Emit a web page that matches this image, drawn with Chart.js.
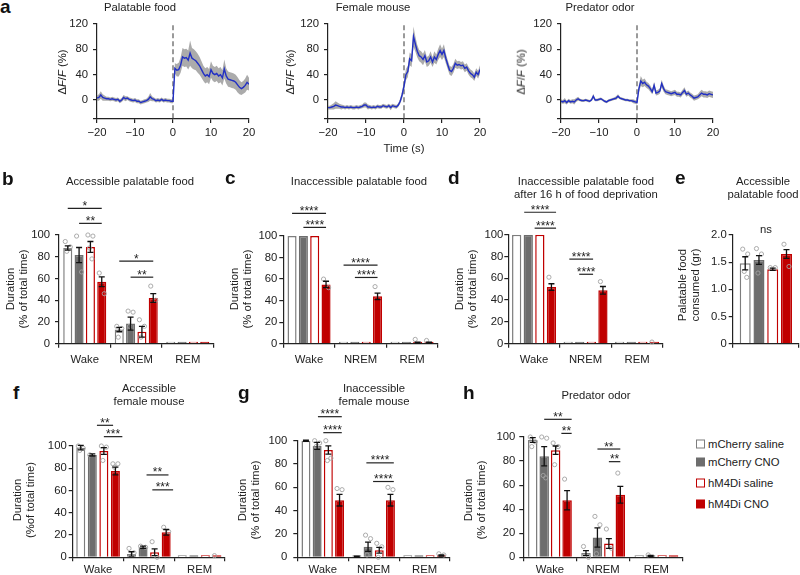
<!DOCTYPE html>
<html><head><meta charset="utf-8">
<script src="https://cdn.jsdelivr.net/npm/chart.js@4.4.1/dist/chart.umd.min.js"></script>
<style>
html,body{margin:0;padding:0;background:#fff;}
body{width:800px;height:575px;overflow:hidden;position:relative;font-family:"Liberation Sans",Arial,Helvetica,sans-serif;color:#222;}
canvas{position:absolute;}
.tt{position:absolute;font-size:11.3px;line-height:12.5px;text-align:center;white-space:nowrap;transform:translate(-50%,-50%);z-index:2;}
.yl{position:absolute;font-size:11.3px;line-height:12.5px;text-align:center;white-space:nowrap;transform:translate(-50%,-50%) rotate(-90deg);z-index:2;color:#222;}
.pl{position:absolute;font-size:19px;line-height:19px;font-weight:bold;color:#111;z-index:2;}
.lg{position:absolute;font-size:11.3px;line-height:14px;white-space:nowrap;transform:translateY(-50%);z-index:2;}
.sw{position:absolute;width:9px;height:9px;box-sizing:border-box;transform:translateY(-50%);z-index:2;}
</style></head>
<body>
<div id="root"></div>

<div class="pl" style="left:0px;top:-3px">a</div>
<div class="pl" style="left:2px;top:169px">b</div>
<div class="pl" style="left:225px;top:168px">c</div>
<div class="pl" style="left:448px;top:168px">d</div>
<div class="pl" style="left:675px;top:168px">e</div>
<div class="pl" style="left:13px;top:383px">f</div>
<div class="pl" style="left:238px;top:383px">g</div>
<div class="pl" style="left:463px;top:383px">h</div>

<div class="tt" style="left:140px;top:7px">Palatable food</div>
<div class="tt" style="left:373px;top:7px">Female mouse</div>
<div class="tt" style="left:600px;top:7px">Predator odor</div>
<div class="tt" style="left:404px;top:148px">Time (s)</div>
<div class="yl" style="left:62px;top:72px">Δ<i>F</i>/<i>F</i> (%)</div>
<div class="yl" style="left:290px;top:72px">Δ<i>F</i>/<i>F</i> (%)</div>
<div class="yl" style="left:521px;top:72px">Δ<i>F</i>/<i>F</i> (%)</div>

<div class="tt" style="left:130px;top:181px">Accessible palatable food</div>
<div class="tt" style="left:359px;top:181px">Inaccessible palatable food</div>
<div class="tt" style="left:586px;top:187px">Inaccessible palatable food<br>after 16 h of food deprivation</div>
<div class="tt" style="left:763px;top:187px">Accessible<br>palatable food</div>
<div class="yl" style="left:16px;top:289px">Duration<br>(% of total time)</div>
<div class="yl" style="left:240px;top:289px">Duration<br>(% of total time)</div>
<div class="yl" style="left:465px;top:289px">Duration<br>(% of total time)</div>
<div class="yl" style="left:688px;top:285px">Palatable food<br>consumed (gr)</div>

<div class="tt" style="left:149px;top:394px">Accessible<br>female mouse</div>
<div class="tt" style="left:374px;top:394px">Inaccessible<br>female mouse</div>
<div class="tt" style="left:596px;top:395px">Predator odor</div>
<div class="yl" style="left:23px;top:500px">Duration<br>(%of total time)</div>
<div class="yl" style="left:248px;top:500px">Duration<br>(% of total time)</div>
<div class="yl" style="left:474px;top:500px">Duration<br>(% of total time)</div>

<div class="sw" style="left:696px;top:444px;border:1.5px solid #7d7d7d;background:#fff"></div>
<div class="lg" style="left:708px;top:444px">mCherry saline</div>
<div class="sw" style="left:696px;top:462px;background:#6d6d6d"></div>
<div class="lg" style="left:708px;top:462px">mCherry CNO</div>
<div class="sw" style="left:696px;top:483px;border:1.5px solid #c00000;background:#fff"></div>
<div class="lg" style="left:708px;top:483px">hM4Di saline</div>
<div class="sw" style="left:696px;top:504px;background:#c00000"></div>
<div class="lg" style="left:708px;top:504px">hM4Di CNO</div>

<script>
// ---------------- DATA ----------------
const timeSec = [-20,-19.5,-19,-18.5,-18,-17.5,-17,-16.5,-16,-15.5,-15,-14.5,-14,-13.5,-13,-12.5,-12,-11.5,-11,-10.5,-10,-9.5,-9,-8.5,-8,-7.5,-7,-6.5,-6,-5.5,-5,-4.5,-4,-3.5,-3,-2.5,-2,-1.5,-1,-0.5,0,0.5,1,1.5,2,2.5,3,3.5,4,4.5,5,5.5,6,6.5,7,7.5,8,8.5,9,9.5,10,10.5,11,11.5,12,12.5,13,13.5,14,14.5,15,15.5,16,16.5,17,17.5,18,18.5,19,19.5,20];
const traceXTicks = [-20,-10,0,10,20];
const traceYTicks = [-30,0,40,80,120];

const foodMean = [3,4,8,4,3,2,2,1,2,1,0,1,-2,0,4,2,3,1,0,-1,0,-2,-2,-4,-3,-2,-1,1,5,2,1,-1,0,-1,1,-1,0,-1,-1,-2,-2,
  50,47,48,55,68,66,67,63,74,66,64,62,58,54,48,42,38,40,37,48,42,40,42,38,40,35,49,38,33,32,31,30,28,24,20,18,20,23,28,25];
const foodSem = [4,5,6,5,4,3,3,3,3,3,3,3,3,3,4,4,3,3,3,3,3,3,3,3,3,3,3,4,6,4,3,3,3,3,3,3,3,3,3,3,3,
  8,10,11,12,14,14,14,15,20,16,16,15,15,14,13,12,12,12,12,13,12,12,12,12,12,12,15,12,12,12,12,12,12,12,11,10,10,11,12,10];

const femaleMean = [-12,-12,-11,-10,-8,-9,-10,-11,-11,-12,-11,-12,-11,-12,-12,-11,-12,-11,-10,-8,-8,-11,-11,-12,-11,-12,-10,-11,-11,-9,-10,-11,-9,-12,-9,-10,-11,-8,-2,8,22,
  40,45,65,62,100,88,77,70,68,64,70,60,62,68,60,68,64,72,78,72,78,66,56,47,45,50,58,55,56,54,55,50,52,46,42,40,36,44,40,48];
const femaleSem = [3,3,4,5,6,5,4,4,3,3,3,3,3,3,3,3,3,3,3,4,4,4,3,3,3,3,3,3,3,3,3,3,3,4,3,3,3,3,4,6,8,
  9,9,10,10,16,12,10,9,9,9,9,8,8,9,8,9,8,9,10,9,10,8,7,7,7,7,7,6,6,6,6,6,6,6,6,6,6,6,6,7];

const predatorMean = [-2,-3,-1,-4,-1,-3,-2,-3,0,2,0,-1,-1,0,-1,-2,0,6,0,0,1,2,0,-2,-3,-1,0,1,2,3,6,3,2,1,0,0,-1,-1,-2,-3,-4,
  18,30,26,28,24,22,18,13,23,11,12,14,26,18,13,12,11,10,11,12,9,9,8,12,15,9,11,8,6,3,4,5,8,11,9,9,8,10,9,8];
const predatorSem = [3,3,4,3,3,3,3,4,3,3,2,2,2,2,2,2,2,4,2,2,2,2,2,2,2,2,2,2,2,3,3,2,2,2,2,2,2,2,3,3,3,
  6,8,6,6,5,5,5,4,6,4,4,4,6,5,4,4,4,4,4,4,4,4,4,4,5,4,4,4,4,4,4,4,5,5,5,5,5,5,5,5];

const seriesNames = ['mCherry saline','mCherry CNO','hM4Di saline','hM4Di CNO'];
const stateLabels = ['Wake','NREM','REM'];

// per series: [Wake, NREM, REM]
const bMean = [[88,13,0.5],[81.5,18.5,0.5],[89,11,0.5],[57,42,0.5]];
const bSem  = [[2,2,0],[7,6,0],[5,5,0],[4.5,4,0]];
const bDots = [[[94,89,85],[16,14,6],[]],[[99,66],[30,29,16],[]],[[100,99,88,78],[22,16,6],[]],[[65,46],[53,40],[]]];
const bSig  = [[0,0,3,124.5,'*'],[0,1,3,110.7,'**'],[1,0,3,75.9,'*'],[1,1,3,61.2,'**']];

const cMean = [[100,0.5,0.5],[100,0.5,0.5],[100,0.5,1],[55,44,1]];
const cSem  = [[0,0,0],[0,0,0],[0,0,0.5],[3,3,0.5]];
const cDots = [[[],[],[]],[[],[],[]],[[],[],[4]],[[60,52],[53],[3]]];
const cSig  = [[0,0,3,121,'****'],[0,1,3,108,'****'],[1,0,3,73,'****'],[1,1,3,61.5,'****']];

const dMean = [[100,0.5,0.5],[100,0.5,0.5],[100,0.5,0.5],[52,49,1]];
const dSem  = [[0,0,0],[0,0,0],[0,0,0],[3,3.5,0]];
const dDots = [[[],[],[]],[[],[],[]],[[],[],[]],[[61],[57],[1.5]]];
const dSig  = [[0,0.65,3.4,120.6,'****'],[0,1.55,3.4,106,'****'],[1,0.1,2.15,77.6,'****'],[1,0.95,2.15,63.7,'****']];

const eLabels = [''];
const eMean = [[1.48],[1.54],[1.37],[1.65]];
const eSem  = [[0.12],[0.08],[0.02],[0.08]];
const eDots = [[[1.74,1.65,1.33,1.22]],[[1.75,1.65,1.3]],[[1.4,1.4]],[[1.83,1.42]]];
const eSig  = [[0,0,3,2.09,'ns',true]];

const fMean = [[98.5,3,0.5],[92,9,0.5],[95.5,4.5,0.5],[77.5,22.5,1]];
const fSem  = [[2,2,0],[1,1,0],[3,3,0],[3.5,2.5,0]];
const fDots = [[[100,98,96],[8,4],[]],[[92],[10,9],[]],[[100,99,87],[14,0],[]],[[84,84,81],[27,23],[1.5]]];
const fSig  = [[0,1.4,2.8,118.6,'**'],[0,2,3.6,108.4,'***'],[1,1.3,3.2,74,'**'],[1,1.8,3.6,60.6,'***']];

const gMean = [[100,0.5,0.5],[95.5,9,0.5],[92,6,0.5],[49,49,1.5]];
const gSem  = [[0.5,0.5,0],[3,4,0],[3.5,2.5,0],[5,5,0.5]];
const gDots = [[[],[],[]],[[100,98,95],[19,16,2],[]],[[100,85,83],[12,9,0],[]],[[59,58],[60,58],[3,2]]];
const gSig  = [[0,1.07,3.2,120.6,'****'],[0,1.55,3.2,106.9,'****'],[1,0.85,3.3,81,'****'],[1,1.45,3.3,65,'****']];

const hMean = [[97.5,3.5,0.5],[84,16.5,1],[89,11.5,0.5],[47.5,52,0.5]];
const hSem  = [[2,2,0],[8,8,0.5],[3.5,4,0],[8,7,0]];
const hDots = [[[100,96,92],[9,0],[]],[[100,99,68,66],[34,27,3],[2]],[[95,92,77],[23.5,7.5],[]],[[65],[70],[]]];
const hSig  = [[0,1,3.4,114.7,'**'],[0,2.5,3.4,103,'**'],[1,1,3,90,'**'],[1,2,3,79.5,'**']];

// ---------------- STYLE ----------------
const fillColors = ['#ffffff','#6d6d6d','#ffffff','#c00000'];
const edgeColors = ['#7d7d7d','#6d6d6d','#c00000','#c00000'];
const AX = '#222', TX = '#222';
const FAM = '"Liberation Sans", Arial, Helvetica, sans-serif';
const FONT = {family: FAM, size: 11.3};
const BLUE = '#2230c4';
const BAND = 'rgba(150,150,150,0.8)';
const jitter = [-2.5, 2.5, -1, 1.5, 0];

function frame(area, WY, PT, PR, HX, PB){
  const cl = Math.floor(area.l - WY - 2);
  const ct = Math.floor(area.t - PT);
  const w = Math.ceil(area.r + PR - cl);
  const h = Math.ceil(area.b + HX + PB - ct);
  return {cl, ct, w, h, pad:{left: area.l - WY - cl, top: area.t - ct, right: w - (area.r - cl), bottom: h - (area.b + HX - ct)}};
}
function addCanvas(f){
  const c = document.createElement('canvas');
  c.width = f.w; c.height = f.h;
  c.style.left = f.cl + 'px'; c.style.top = f.ct + 'px';
  c.style.width = f.w + 'px'; c.style.height = f.h + 'px';
  document.getElementById('root').appendChild(c);
  return c;
}
const minusFmt = v => v < 0 ? '\u2212' + Math.abs(v) : String(v);
const axisGrid = {display:true, drawOnChartArea:false, drawTicks:true, tickLength:4, color:AX, lineWidth:1.2};
const axisBorder = {display:true, color:AX, width:1.2};

const zeroLine = {id:'zeroLine', beforeDatasetsDraw(chart){
  const {ctx, scales:{x, y}} = chart;
  const px = x.getPixelForValue(0);
  ctx.save(); ctx.strokeStyle = '#7a7a7a'; ctx.lineWidth = 1.5; ctx.setLineDash([5,3]);
  ctx.beginPath(); ctx.moveTo(px, y.getPixelForValue(118)); ctx.lineTo(px, y.getPixelForValue(-30)); ctx.stroke();
  ctx.restore();
}};

function drawTrace(area, mean, sem){
  const WY = 40, HX = 22;
  const f = frame(area, WY, 12, 14, HX, 2);
  const cv = addCanvas(f);
  const line = timeSec.map((t,i)=>({x:t, y:mean[i]}));
  const upper = timeSec.map((t,i)=>({x:t, y:mean[i]+sem[i]}));
  const lower = timeSec.map((t,i)=>({x:t, y:mean[i]-sem[i]}));
  new Chart(cv, {type:'line', data:{datasets:[
      {data:line, borderColor:BLUE, borderWidth:1.4, pointRadius:0, fill:false, tension:0},
      {data:upper, borderWidth:0, borderColor:'rgba(0,0,0,0)', pointRadius:0, fill:false, backgroundColor:BAND},
      {data:lower, borderWidth:0, borderColor:'rgba(0,0,0,0)', pointRadius:0, fill:'-1', backgroundColor:BAND}
    ]},
    options:{responsive:false, animation:false, devicePixelRatio:1, layout:{padding:f.pad},
      plugins:{legend:{display:false}, tooltip:{enabled:false}},
      scales:{
        x:{type:'linear', min:-20, max:20,
          afterBuildTicks:s=>{s.ticks = traceXTicks.map(v=>({value:v}));},
          afterFit:s=>{s.height = HX;},
          grid:axisGrid, border:axisBorder,
          ticks:{color:TX, font:FONT, padding:3, maxRotation:0, autoSkip:false, callback:v=>minusFmt(v)}},
        y:{type:'linear', min:-30, max:120,
          afterBuildTicks:s=>{s.ticks = traceYTicks.map(v=>({value:v}));},
          afterFit:s=>{s.width = WY;},
          grid:axisGrid, border:axisBorder,
          ticks:{color:TX, font:FONT, padding:5, autoSkip:false, callback:v=> v < 0 ? '' : String(v)}}
      }},
    plugins:[zeroLine]});
}

function drawBars(area, labels, mean, sem, dots, sig, opt){
  const WY = 40, HX = 24;
  const f = frame(area, WY, 55, 6, HX, 2);
  const cv = addCanvas(f);
  const datasets = mean.map((vals,i)=>({label:seriesNames[i], data:vals,
    backgroundColor:fillColors[i], borderColor:edgeColors[i], borderWidth:1.5, borderSkipped:'start',
    minBarLength:2, categoryPercentage:opt.cat, barPercentage:opt.bar}));
  const extras = {id:'extras', afterDatasetsDraw(chart){
    const ctx = chart.ctx, ys = chart.scales.y;
    ctx.save();
    datasets.forEach((ds, di)=>{
      chart.getDatasetMeta(di).data.forEach((bar, ci)=>{
        (dots[di][ci] || []).forEach((v,k)=>{
          ctx.beginPath(); ctx.arc(bar.x + jitter[k % jitter.length], ys.getPixelForValue(v), 2.1, 0, Math.PI*2);
          ctx.strokeStyle = '#a3a3a3'; ctx.lineWidth = 0.9; ctx.stroke();
        });
      });
    });
    ctx.strokeStyle = '#111'; ctx.lineWidth = 1.3;
    datasets.forEach((ds, di)=>{
      chart.getDatasetMeta(di).data.forEach((bar, ci)=>{
        const s = sem[di][ci]; if (!s) return;
        const m = ds.data[ci];
        const y1 = ys.getPixelForValue(m + s), y2 = ys.getPixelForValue(Math.max(m - s, 0));
        ctx.beginPath();
        ctx.moveTo(bar.x, y1); ctx.lineTo(bar.x, y2);
        ctx.moveTo(bar.x - 3, y1); ctx.lineTo(bar.x + 3, y1);
        ctx.moveTo(bar.x - 3, y2); ctx.lineTo(bar.x + 3, y2);
        ctx.stroke();
      });
    });
    const bx = (cat, pos)=>{
      const x0 = chart.getDatasetMeta(0).data[cat].x, x1 = chart.getDatasetMeta(1).data[cat].x;
      return x0 + pos*(x1 - x0);
    };
    ctx.fillStyle = '#222'; ctx.strokeStyle = '#222'; ctx.lineWidth = 1.2;
    ctx.textAlign = 'center';
    sig.forEach(([cat, a, b, yv, txt, noLine])=>{
      const xa = bx(cat, a), xb = bx(cat, b), py = ys.getPixelForValue(yv);
      if (noLine){
        ctx.font = '11.3px ' + FAM; ctx.textBaseline = 'middle';
        ctx.fillText(txt, (xa+xb)/2, py);
      } else {
        ctx.beginPath(); ctx.moveTo(xa, py); ctx.lineTo(xb, py); ctx.stroke();
        ctx.font = '12px ' + FAM; ctx.textBaseline = 'alphabetic';
        ctx.fillText(txt, (xa+xb)/2, py + 1.5);
      }
    });
    ctx.restore();
  }};
  new Chart(cv, {type:'bar', data:{labels, datasets},
    options:{responsive:false, animation:false, devicePixelRatio:1, layout:{padding:f.pad},
      plugins:{legend:{display:false}, tooltip:{enabled:false}},
      scales:{
        x:{type:'category', afterFit:s=>{s.height = HX;},
          grid:Object.assign({offset:true}, axisGrid), border:axisBorder,
          ticks:{color:TX, font:FONT, padding:opt.xp, maxRotation:0, autoSkip:false}},
        y:{type:'linear', min:0, max:opt.max, afterFit:s=>{s.width = WY;},
          grid:axisGrid, border:axisBorder,
          ticks:{color:TX, font:FONT, padding:opt.yp, stepSize:opt.step, autoSkip:false,
            callback:v=> opt.dec ? (v === 0 ? '0' : v.toFixed(1)) : String(v)}}
      }},
    plugins:[extras]});
}

// ---------------- PANELS ----------------
drawTrace({l:97, r:249, t:24, b:119}, foodMean, foodSem);
drawTrace({l:328, r:480, t:24, b:119}, femaleMean, femaleSem);
drawTrace({l:561, r:713, t:24, b:119}, predatorMean, predatorSem);

drawBars({l:59, r:213.5, t:235, b:343.7}, stateLabels, bMean, bSem, bDots, bSig, {cat:0.88, bar:0.8, max:100, step:20, yp:5, xp:5});
drawBars({l:283.3, r:437.8, t:236, b:343.7}, stateLabels, cMean, cSem, cDots, cSig, {cat:0.88, bar:0.8, max:100, step:20, yp:2, xp:5});
drawBars({l:508.3, r:662.8, t:234.7, b:343.7}, stateLabels, dMean, dSem, dDots, dSig, {cat:0.9, bar:0.8, max:100, step:20, yp:1, xp:5});
drawBars({l:732.7, r:799, t:235, b:343.7}, eLabels, eMean, eSem, eDots, eSig, {cat:0.83, bar:0.8, max:2, step:0.5, yp:2, xp:5, dec:true});

drawBars({l:72.7, r:225, t:446, b:557.3}, stateLabels, fMean, fSem, fDots, fSig, {cat:0.91, bar:0.78, max:100, step:20, yp:2, xp:2});
drawBars({l:297.3, r:450, t:440.7, b:557.3}, stateLabels, gMean, gSem, gDots, gSig, {cat:0.88, bar:0.8, max:100, step:20, yp:6, xp:2});
drawBars({l:523.3, r:683, t:437, b:557.3}, stateLabels, hMean, hSem, hDots, hSig, {cat:0.86, bar:0.83, max:100, step:20, yp:4, xp:2});
</script>
</body></html>
